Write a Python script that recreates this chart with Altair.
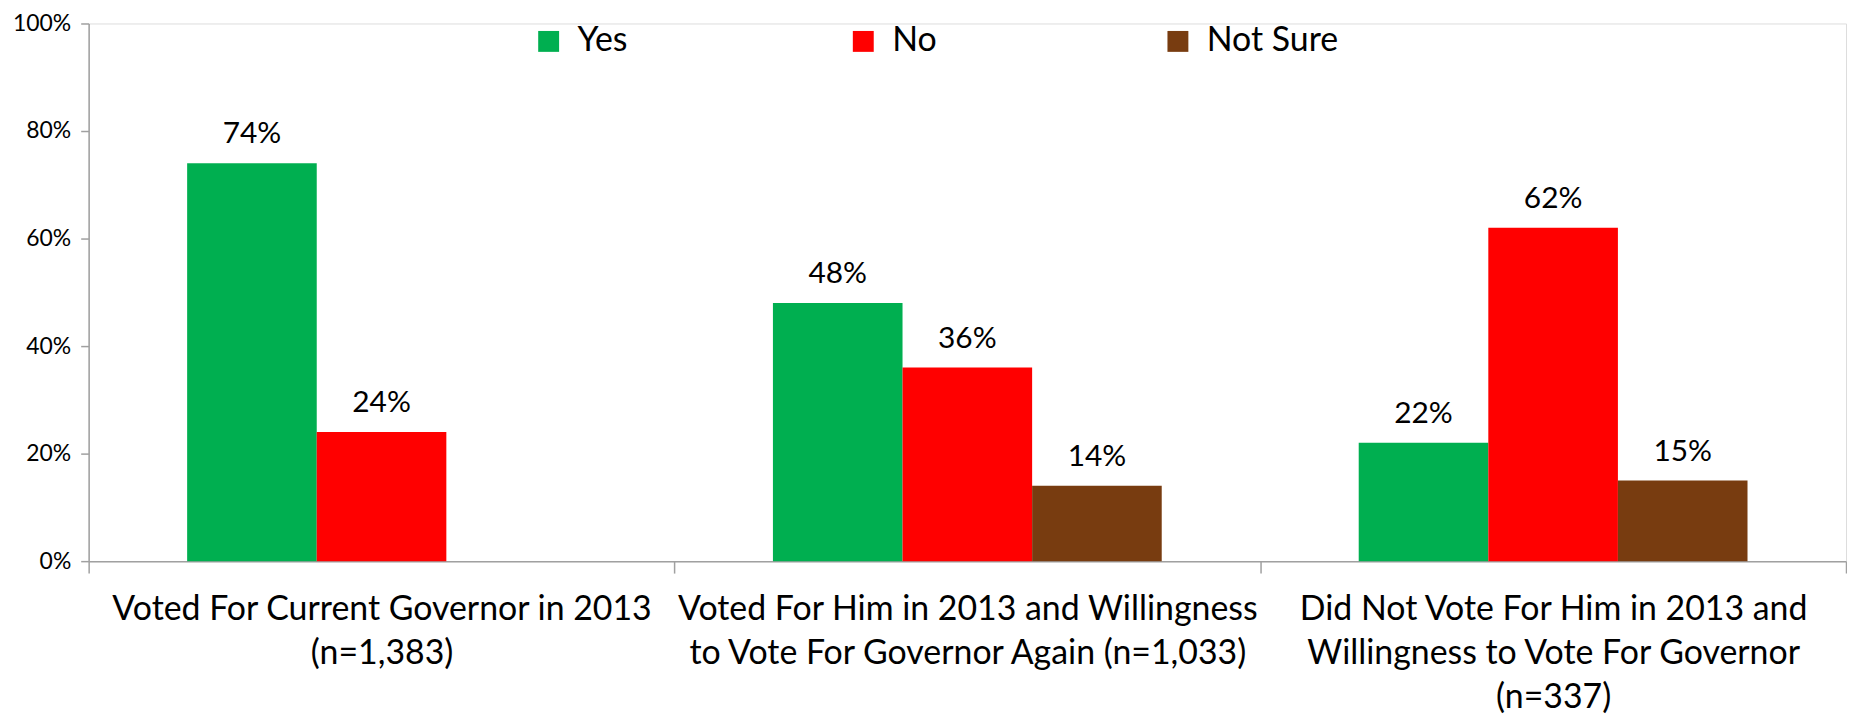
import altair as alt
import pandas as pd

categories = [
    "Voted For Current Governor in 2013|(n=1,383)",
    "Voted For Him in 2013 and Willingness|to Vote For Governor Again (n=1,033)",
    "Did Not Vote For Him in 2013 and|Willingness to Vote For Governor|(n=337)",
]
series = ["Yes", "No", "Not Sure"]
yes_values = [74, 48, 22]
no_values = [24, 36, 62]
not_sure_values = [None, 14, 15]
colors = ["#00AF50", "#FF0000", "#783C10"]
y_ticks = [0, 20, 40, 60, 80, 100]

rows = []
for s, vals in zip(series, [yes_values, no_values, not_sure_values]):
    for c, v in zip(categories, vals):
        if v is not None:
            rows.append({"category": c, "series": s, "value": v, "label": f"{v}%"})
df = pd.DataFrame(rows)

FONT = "Lato"
W, H = 1765, 540

x_enc = alt.X(
    "category:N",
    sort=categories,
    scale=alt.Scale(paddingInner=0, paddingOuter=0),
    axis=alt.Axis(
        title=None,
        labelAngle=0,
        labelExpr="split(datum.label, '|')",
        labelFont=FONT,
        labelFontSize=34,
        labelColor="#000000",
        labelLimit=700,
        labelLineHeight=44,
        labelPadding=20,
        labelBaseline="top",
        tickBand="extent",
        tickSize=12,
        tickColor="#a0a0a0",
        tickWidth=1.5,
        domainColor="#a0a0a0",
        domainWidth=1.5,
        grid=False,
    ),
)
xoff_enc = alt.XOffset(
    "series:N",
    sort=series,
    scale=alt.Scale(domain=series, paddingInner=0, paddingOuter=0.76),
)
y_enc = alt.Y(
    "value:Q",
    scale=alt.Scale(domain=[0, 100], nice=False),
    axis=alt.Axis(
        title=None,
        values=y_ticks,
        labelExpr="datum.value + '%'",
        labelFont=FONT,
        labelFontSize=23,
        labelColor="#000000",
        labelPadding=10,
        tickSize=8,
        tickColor="#a0a0a0",
        tickWidth=1.5,
        domainColor="#a0a0a0",
        domainWidth=1.5,
        grid=False,
    ),
)

bars = alt.Chart(df).mark_bar(strokeWidth=0).encode(
    x=x_enc,
    xOffset=xoff_enc,
    y=y_enc,
    color=alt.Color(
        "series:N",
        sort=series,
        scale=alt.Scale(domain=series, range=colors),
        legend=alt.Legend(
            title=None,
            orient="none",
            legendX=445,
            legendY=1,
            direction="horizontal",
            columns=3,
            gridAlign="all",
            columnPadding=138,
            symbolType="square",
            symbolSize=441,
            symbolStrokeWidth=0,
            symbolOpacity=1,
            labelFont=FONT,
            labelFontSize=34,
            labelColor="#000000",
            labelOffset=12,
        ),
    ),
)

texts = alt.Chart(df).mark_text(
    font=FONT, fontSize=30, color="#000000", baseline="alphabetic", dy=-20
).encode(
    x=alt.X("category:N", sort=categories),
    xOffset=alt.XOffset("series:N", sort=series, scale=alt.Scale(domain=series)),
    y=alt.Y("value:Q"),
    text="label:N",
)

chart = (
    alt.layer(bars, texts)
    .properties(
        width=W,
        height=H,
        autosize=alt.AutoSizeParams(type="none"),
        padding={"left": 81, "top": 14, "right": 1, "bottom": 160},
    )
    .configure_view(stroke=None)
    .configure(background="#ffffff")
)

chart.save("out.html", embed_options={"renderer": "svg", "actions": False})
